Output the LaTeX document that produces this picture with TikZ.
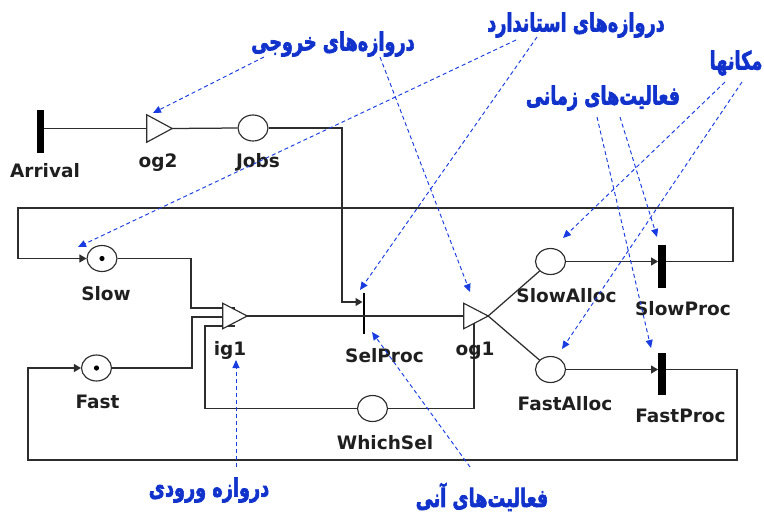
\documentclass[tikz,border=0pt]{standalone}
\usepackage{fontspec}
\setmainfont{DejaVu Sans}
\newfontfamily\fafont[Script=Arabic,BoldFeatures={FakeBold=3}]{DejaVu Sans}
\TeXXeTstate=1
\usetikzlibrary{arrows.meta,shapes.geometric}
\definecolor{netline}{RGB}{45,45,45}
\definecolor{annot}{RGB}{17,51,204}
\definecolor{annotline}{RGB}{25,60,225}
\newcommand{\fatext}[1]{\scalebox{0.93}[1.32]{\beginR #1\endR}}
\begin{document}
\begin{tikzpicture}[x=1pt,y=-1pt,
  place/.style={ellipse, draw=netline, line width=1.15pt, minimum width=30pt, minimum height=26pt, inner sep=0pt, fill=white},
  thickbar/.style={rectangle, fill=black, minimum width=7.5pt, minimum height=43pt, inner sep=0pt},
  thinbar/.style={rectangle, fill=black, minimum width=2.6pt, minimum height=41pt, inner sep=0pt},
  gatebox/.style={rectangle, minimum width=24pt, minimum height=26pt, inner sep=0pt},
  gatetri/.style={draw=netline, line width=1.15pt, fill=white, line join=miter},
  lbl/.style={font=\bfseries\fontsize{18.5}{20}\selectfont, text=black!88, inner sep=0pt, anchor=base},
  note/.style={font=\fafont\bfseries\fontsize{19}{24}\selectfont, text=annot, inner sep=0pt},
  arc/.style={draw=netline, line width=1.25pt},
  arcin/.style={arc, -{Triangle[length=7pt,width=8pt]}},
  pointer/.style={draw=annotline, line width=0.95pt, dash pattern=on 4pt off 3pt, -{Triangle[length=8pt,width=7pt]}}
]
\useasboundingbox (0,0) rectangle (764,512);

% ---- net nodes
\node[thickbar] (arrival) at (40.5,131.5) {};
\node[gatebox, minimum width=25pt, minimum height=27pt] (og2) at (159.5,128.5) {};
\node[place] (jobs) at (253,128) {};
\node[place] (slow) at (102,258.5) {};
\node[place] (fast) at (96.5,368) {};
\node[gatebox, minimum height=25pt] (ig1) at (235,316) {};
\node[thinbar] (selproc) at (364,313.5) {};
\node[gatebox, minimum height=25pt] (og1) at (476,316) {};
\node[place] (whichsel) at (372.5,408.5) {};
\node[place] (slowalloc) at (550.5,261.5) {};
\node[place] (fastalloc) at (550.5,369.5) {};
\node[thickbar] (slowproc) at (662,266.5) {};
\node[thickbar, minimum height=42pt] (fastproc) at (662,374) {};

% ---- tokens
\fill[black] (slow.center) circle (2.6pt);
\fill[black] (fast.center) circle (2.6pt);

% ---- arcs
\draw[arc] (arrival.east |- og2.west) -- (og2.center);
\draw[arc] (og2.east) -- (jobs.west);
\draw[arcin] (jobs.east) -| (342,302) -- ([yshift=11.5pt]selproc.west);
\draw[arc] (ig1.center) -- (og1.center);
\draw[arc] (og1.east) -- (slowalloc);
\draw[arc] (og1.east) -- (fastalloc);
\draw[arcin] (slowalloc.east) -- (slowproc.west |- slowalloc.east);
\draw[arcin] (fastalloc.east) -- (fastproc.west |- fastalloc.east);
\draw[arcin] (slowproc.east |- slowalloc.east) -| (733,208) -| (18,258.5) -- (slow.west);
\draw[arcin] (fastproc.east |- fastalloc.east) -| (737,460) -| (28,368) -- (fast.west);
\draw[arc] (slow.east) -| (191,308) -- ([yshift=8pt]ig1.center);
\draw[arc] (fast.east) -| (192,317) -- ([yshift=-1pt]ig1.center);
\draw[arc] (whichsel.west) -| (205,326) -- ([yshift=-10pt]ig1.center);
\draw[arc] (whichsel.east) -| ([xshift=-2pt]og1.center);

% ---- gate triangles
\draw[gatetri] (og2.north west) -- (og2.east) -- (og2.south west) -- cycle;
\draw[gatetri] (ig1.north west) -- (ig1.east) -- (ig1.south west) -- cycle;
\draw[gatetri] (og1.north west) -- (og1.east) -- (og1.south west) -- cycle;

% ---- labels
\node[lbl] (l-arrival) at (45,177) {Arrival};
\node[lbl] (l-og2) at (158,167) {og2};
\node[lbl] (l-jobs) at (258,167) {Jobs};
\node[lbl] (l-slow) at (106,300) {Slow};
\node[lbl] (l-ig1) at (230,355) {ig1};
\node[lbl] (l-selproc) at (384.5,362) {SelProc};
\node[lbl] (l-og1) at (475,355) {og1};
\node[lbl] (l-fast) at (97.5,408) {Fast};
\node[lbl] (l-whichsel) at (385,449) {WhichSel};
\node[lbl] (l-slowalloc) at (566.5,302) {SlowAlloc};
\node[lbl] (l-slowproc) at (683,315) {SlowProc};
\node[lbl] (l-fastalloc) at (565,410) {FastAlloc};
\node[lbl] (l-fastproc) at (680.5,422) {FastProc};

% ---- annotations
\node[note] (n-out) at (333,44) {\fatext{دروازه‌های خروجی}};
\node[note] (n-std) at (576,25) {\fatext{دروازه‌های استاندارد}};
\node[note] (n-place) at (736,63) {\fatext{مکانها}};
\node[note] (n-timed) at (603,98) {\fatext{فعالیت‌های زمانی}};
\node[note] (n-in) at (209,490) {\fatext{دروازه ورودی}};
\node[note] (n-inst) at (482,497) {\fatext{فعالیت‌های آنی}};

% ---- pointer ends
\coordinate (s1) at (264,57);   \coordinate (t1) at (153,113);
\coordinate (s2) at (380,57);   \coordinate (t2) at (470,292);
\coordinate (s3) at (516,40);   \coordinate (t3) at (78,247);
\coordinate (s4) at (537,37);   \coordinate (t4) at (360,290);
\coordinate (s5) at (597,117);  \coordinate (t5) at (651,348);
\coordinate (s6) at (620,117);  \coordinate (t6) at (657,237);
\coordinate (s7) at (725,82);   \coordinate (t7) at (563,238);
\coordinate (s8) at (742,82);   \coordinate (t8) at (562,349);
\coordinate (s9) at (236,467);  \coordinate (t9) at (236,360);
\coordinate (s10) at (470,467); \coordinate (t10) at (372,332);
\foreach \i in {1,...,10} {\draw[pointer] (s\i) -- (t\i);}
\end{tikzpicture}
\end{document}
